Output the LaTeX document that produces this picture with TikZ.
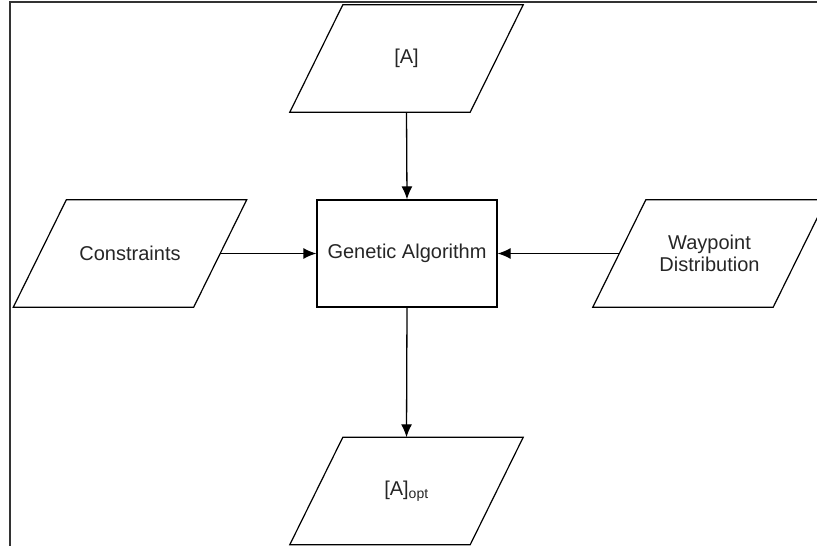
\documentclass[tikz,border=0pt]{standalone}
\usepackage{fontspec}
\setmainfont{Liberation Sans}
\usetikzlibrary{arrows.meta}
% slanted data block drawn round a named node (horizontal lean in pt)
\newcommand{\dataoutline}[1]{%
  \draw[outline] ([xshift=-26.5pt]#1.south west) -- ([xshift=-26.5pt]#1.south east)
    -- ([xshift=26.5pt]#1.north east) -- ([xshift=26.5pt]#1.north west) -- cycle;}
\begin{document}
\begin{tikzpicture}[x=1pt,y=-1pt,
  every node/.style={font=\fontsize{20}{22}\selectfont, text=black!85},
  datashape/.style={rectangle, minimum width=180pt, minimum height=107pt,
    inner sep=0pt, align=center},
  outline/.style={draw=black, line width=1.2pt, line join=miter},
  procbox/.style={draw=black, line width=1.3pt, rectangle,
    minimum width=180pt, minimum height=107pt, inner sep=0pt},
  flow/.style={line width=1.3pt, -{Latex[length=13pt,width=11pt]}},
  frameline/.style={line width=2pt, black!80}]
  \useasboundingbox (0,0) rectangle (817,546);
  \clip (0,0) rectangle (817,546);

  % page frame
  \draw[frameline] (10,546) -- (10,2) -- (817,2);

  % blocks
  \node[datashape] (A)    at (406.5,58.5)  {[A]};
  \node[procbox]   (ga)   at (407,253.5)   {Genetic Algorithm};
  \node[datashape] (cons) at (130,253.5)   {Constraints};
  \node[datashape] (way)  at (709.5,253.5) {Waypoint\\Distribution};
  \node[datashape] (opt)  at (406.5,491)   {[A]\textsubscript{opt}};
  \dataoutline{A}
  \dataoutline{cons}
  \dataoutline{way}
  \dataoutline{opt}

  % connectors
  \draw[flow] (A.south) -- (ga.north);
  \draw[flow] (cons.east) -- (ga.west);
  \draw[flow] (way.west) -- (ga.east);
  \draw[flow] (ga.south) -- (opt.north);
\end{tikzpicture}
\end{document}
